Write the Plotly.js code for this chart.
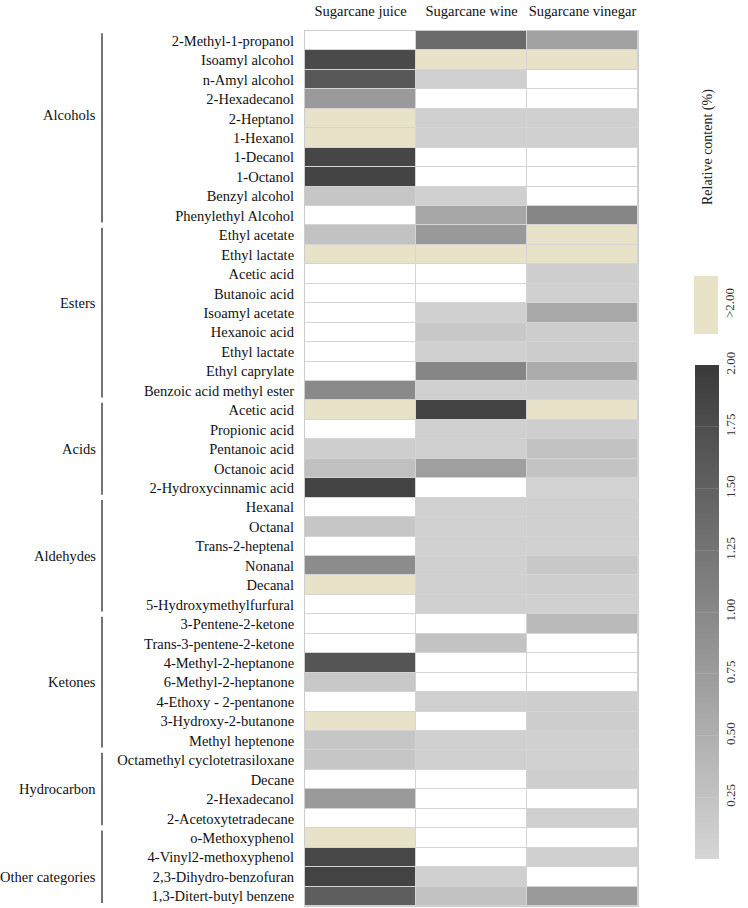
<!DOCTYPE html>
<html>
<head>
<meta charset="utf-8">
<script src="https://cdn.plot.ly/plotly-3.0.1.min.js"></script>
<style>html,body{margin:0;padding:0;background:#fff;}#chart{width:748px;height:908px;}</style>
</head>
<body>
<div id="chart"></div>
<script>
// ---- data ----
const samples = ["Sugarcane juice", "Sugarcane wine", "Sugarcane vinegar"];
const compounds = [
  "2-Methyl-1-propanol","Isoamyl alcohol","n-Amyl alcohol","2-Hexadecanol","2-Heptanol","1-Hexanol","1-Decanol","1-Octanol","Benzyl alcohol","Phenylethyl Alcohol",
  "Ethyl acetate","Ethyl lactate","Acetic acid","Butanoic acid","Isoamyl acetate","Hexanoic acid","Ethyl lactate","Ethyl caprylate","Benzoic acid methyl ester",
  "Acetic acid","Propionic acid","Pentanoic acid","Octanoic acid","2-Hydroxycinnamic acid",
  "Hexanal","Octanal","Trans-2-heptenal","Nonanal","Decanal","5-Hydroxymethylfurfural",
  "3-Pentene-2-ketone","Trans-3-pentene-2-ketone","4-Methyl-2-heptanone","6-Methyl-2-heptanone","4-Ethoxy - 2-pentanone","3-Hydroxy-2-butanone","Methyl heptenone",
  "Octamethyl cyclotetrasiloxane","Decane","2-Hexadecanol","2-Acetoxytetradecane",
  "o-Methoxyphenol","4-Vinyl2-methoxyphenol","2,3-Dihydro-benzofuran","1,3-Ditert-butyl benzene"
];
const groupNames = ["Alcohols","Esters","Acids","Aldehydes","Ketones","Hydrocarbon","Other categories"];
const groupSizes = [10, 9, 5, 6, 7, 4, 4];
// relative content (%); 0 = not detected (white), 2.5 = above 2.00 (beige)
const juice = [0, 1.80, 1.62, 0.77, 2.5, 2.5, 1.85, 1.87, 0.20, 0,
  0.26, 2.5, 0, 0, 0, 0, 0, 0, 0.97,
  2.5, 0, 0.10, 0.28, 1.88,
  0, 0.20, 0, 0.95, 2.5, 0,
  0, 0, 1.65, 0.18, 0, 2.5, 0.20,
  0.20, 0, 0.77, 0,
  2.5, 1.83, 1.88, 1.54];
const wine = [1.37, 2.5, 0.08, 0, 0.08, 0.08, 0, 0, 0.08, 0.62,
  0.78, 2.5, 0, 0, 0.08, 0.18, 0.08, 1.03, 0.08,
  1.87, 0.08, 0.08, 0.70, 0,
  0.06, 0.06, 0.06, 0.08, 0.08, 0.08,
  0, 0.24, 0, 0, 0.08, 0, 0.08,
  0.08, 0, 0, 0,
  0, 0, 0.08, 0.26];
const vinegar = [0.67, 2.5, 0, 0, 0.08, 0.08, 0, 0, 0, 1.04,
  2.5, 2.5, 0.10, 0.08, 0.58, 0.12, 0.13, 0.54, 0.09,
  2.5, 0.10, 0.26, 0.24, 0.05,
  0.08, 0.08, 0.06, 0.18, 0.10, 0.08,
  0.36, 0, 0, 0, 0.10, 0.12, 0.08,
  0.06, 0.10, 0, 0.08,
  0, 0.08, 0, 0.77];
const cbTicks = [0.25, 0.50, 0.75, 1.00, 1.25, 1.50, 1.75, 2.00];

// ---- build ----
const series = [juice, wine, vinegar];
const yIdx = compounds.map((_, i) => i);
const xIdx = samples.map((_, j) => j);
function mat(fn) {
  return yIdx.map(i => xIdx.map(j => fn(series[j][i])));
}
const zWhite = mat(v => v === 0 ? 1 : null);
const zGrad = mat(v => (v > 0 && v <= 2) ? v : null);
const zHigh = mat(v => v > 2 ? 2.5 : null);

const FONT = "Liberation Serif, Times New Roman, serif";
const BEIGE = "#e8e3c8";
const common = {type: "heatmap", x: xIdx, y: yIdx, xgap: 1, ygap: 1, hoverinfo: "skip"};

const H = 908, T = 31, B = 2, plotH = H - T - B;
const L = 305, R = 110, plotW = 748 - L - R;
const py = px => (H - B - px) / plotH;   // pixel y -> paper y
const pxX = px => (px - L) / plotW;      // pixel x -> paper x

const traces = [
  Object.assign({}, common, {z: zWhite, colorscale: [[0, "#ffffff"], [1, "#ffffff"]], showscale: false, zmin: 0, zmax: 1}),
  Object.assign({}, common, {
    z: zGrad, zmin: 0, zmax: 2,
    colorscale: [[0, "#d6d6d6"], [1, "#3a3a3a"]],
    colorbar: {
      x: pxX(695), xanchor: "left", y: py(859), yanchor: "bottom",
      len: (859 - 365) / plotH, lenmode: "fraction", thickness: 24,
      xpad: 0, ypad: 0, outlinewidth: 0,
      tickvals: cbTicks, ticktext: cbTicks.map(v => v.toFixed(2)),
      ticks: "inside", ticklen: 24, tickcolor: "rgba(255,255,255,0.12)",
      tickangle: -90, tickfont: {family: FONT, size: 13, color: "#333"}
    }
  }),
  Object.assign({}, common, {
    z: zHigh, zmin: 2, zmax: 3,
    colorscale: [[0, BEIGE], [1, BEIGE]],
    colorbar: {
      x: pxX(694), xanchor: "left", y: py(334), yanchor: "bottom",
      len: (334 - 276) / plotH, lenmode: "fraction", thickness: 24,
      xpad: 0, ypad: 0, outlinewidth: 0,
      tickvals: [2.5], ticktext: [">2.00"], ticks: "",
      tickangle: -90, tickfont: {family: FONT, size: 13, color: "#333"}
    }
  })
];

// small vertical nudges (in rows) of the group labels, as placed in the source figure
const groupLabelShift = [-0.7, -0.5, 0, 0, 0, 0, 0.5];
const shapes = [], annotations = [];
let start = 0;
groupNames.forEach((g, k) => {
  const n = groupSizes[k];
  shapes.push({type: "line", xref: "paper", yref: "y", x0: pxX(102), x1: pxX(102),
    y0: start - 0.5 + 0.12, y1: start + n - 0.5 - 0.15, line: {color: "#444", width: 1.5}});
  annotations.push({xref: "paper", yref: "y", x: pxX(98), y: start + (n - 1) / 2 + groupLabelShift[k],
    xanchor: "right", yanchor: "middle", showarrow: false, text: g,
    font: {family: FONT, size: 14.5, color: "#111"}});
  start += n;
});
annotations.push({xref: "paper", yref: "paper", x: pxX(708), y: py(147), textangle: -90,
  showarrow: false, text: "Relative content (%)", xanchor: "center", yanchor: "middle",
  font: {family: FONT, size: 14, color: "#222"}});

const layout = {
  width: 748, height: 908,
  margin: {l: L, r: R, t: T, b: B, pad: 0, autoexpand: false},
  paper_bgcolor: "#ffffff", plot_bgcolor: "#d4d4d4",
  showlegend: false,
  xaxis: {side: "top", tickvals: xIdx, ticktext: samples, showgrid: false, zeroline: false,
    range: [-0.5, 2.5], ticks: "outside", ticklen: 8, tickcolor: "rgba(0,0,0,0)",
    tickfont: {family: FONT, size: 14.5, color: "#111"}, showline: true, linecolor: "#cccccc", mirror: true},
  yaxis: {tickvals: yIdx, ticktext: compounds, showgrid: false, zeroline: false,
    range: [compounds.length - 0.5, -0.5], ticks: "outside", ticklen: 7, tickcolor: "rgba(0,0,0,0)",
    tickfont: {family: FONT, size: 14.5, color: "#111"}, showline: true, linecolor: "#cccccc", mirror: true},
  shapes: shapes, annotations: annotations
};

Plotly.newPlot("chart", traces, layout, {displayModeBar: false, staticPlot: true});
</script>
</body>
</html>
